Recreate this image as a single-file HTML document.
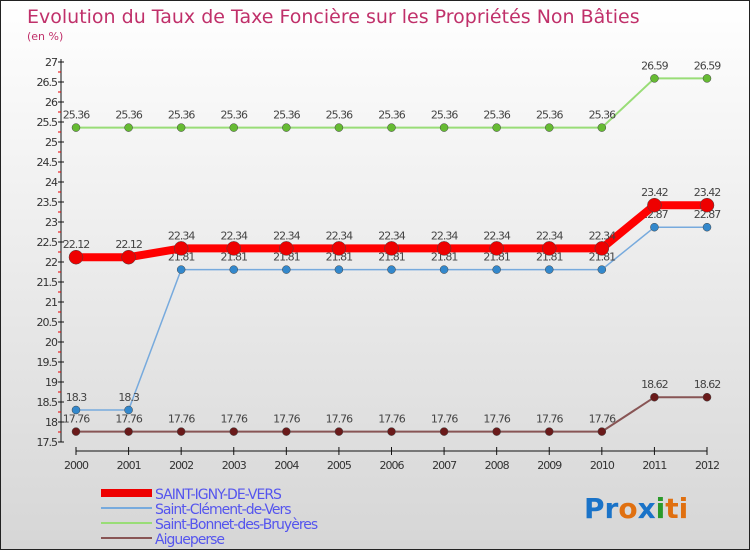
<!DOCTYPE html>
<html><head><meta charset="utf-8"><style>
body{margin:0}
#wrap{width:750px;height:550px;position:relative;box-sizing:border-box;border:1px solid #222;background:linear-gradient(#fff,#d6d6d6);font-family:"DejaVu Sans","Liberation Sans",sans-serif;overflow:hidden}
svg text{font-family:"DejaVu Sans","Liberation Sans",sans-serif}
</style></head><body>
<div id="wrap">
<svg id="chart" width="750" height="550">
<text x="26" y="22" font-size="19" fill="#c0306a">Evolution du Taux de Taxe Foncière sur les Propriétés Non Bâties</text>
<text x="26" y="39" font-size="11" fill="#c0306a">(en %)</text>
<g id="axes"></g><g id="series"></g><g id="legend"></g>
<text x="583" y="517" font-size="28" font-weight="bold"><tspan fill="#1a73c8">Pr</tspan><tspan fill="#e07010">o</tspan><tspan fill="#1a73c8">x</tspan><tspan fill="#2a9a2a">i</tspan><tspan fill="#e07010">ti</tspan></text>
</svg></div>
<script>
const years=[2000,2001,2002,2003,2004,2005,2006,2007,2008,2009,2010,2011,2012];
const saintIgny=[22.12,22.12,22.34,22.34,22.34,22.34,22.34,22.34,22.34,22.34,22.34,23.42,23.42];
const saintClement=[18.3,18.3,21.81,21.81,21.81,21.81,21.81,21.81,21.81,21.81,21.81,22.87,22.87];
const saintBonnet=[25.36,25.36,25.36,25.36,25.36,25.36,25.36,25.36,25.36,25.36,25.36,26.59,26.59];
const aigueperse=[17.76,17.76,17.76,17.76,17.76,17.76,17.76,17.76,17.76,17.76,17.76,18.62,18.62];
const yTicks=[17.5,18,18.5,19,19.5,20,20.5,21,21.5,22,22.5,23,23.5,24,24.5,25,25.5,26,26.5,27];
const seriesNames=["SAINT-IGNY-DE-VERS","Saint-Clément-de-Vers","Saint-Bonnet-des-Bruyères","Aigueperse"];
const NS="http://www.w3.org/2000/svg";
const xs=i=>75+i*(706-75)/(years.length-1);
const ys=v=>61+(27-v)*40;
function mk(tag,attrs,parent,txt){const e=document.createElementNS(NS,tag);for(const k in attrs)e.setAttribute(k,attrs[k]);if(txt!==undefined)e.textContent=txt;parent.appendChild(e);return e;}
const ax=document.getElementById('axes');
let l=mk('line',{x1:60,y1:ys(27)-3,x2:60,y2:ys(17.5),stroke:'#111'},ax);


l=mk('line',{x1:75,y1:450,x2:706,y2:450,stroke:'#111'},ax);


yTicks.forEach(v=>{
 mk('line',{x1:57,y1:ys(v),x2:63,y2:ys(v),stroke:'#111'},ax);
 if(v<27) mk('line',{x1:57,y1:ys(v+0.25),x2:60,y2:ys(v+0.25),stroke:'#e00'},ax);
 const t=mk('text',{x:56,y:ys(v)+4,'font-size':11,'text-anchor':'end',fill:'#333','letter-spacing':'-1'},ax,String(v));
 
 
});
years.forEach((y,i)=>{
 mk('line',{x1:xs(i),y1:446,x2:xs(i),y2:454,stroke:'#111'},ax);
 const t=mk('text',{x:xs(i),y:468,'font-size':11,'text-anchor':'middle',fill:'#333','letter-spacing':'-1'},ax,String(y));
 
 
});
const sg=document.getElementById('series');
const defs=[
 {d:saintBonnet,c:'#99dd77',dot:'#66bb33',w:2,r:4,name:'saint-bonnet'},
 {d:aigueperse,c:'#885555',dot:'#6a1a1a',w:2,r:4,name:'aigueperse'},
 {d:saintClement,c:'#77aadd',dot:'#3388cc',w:1.5,r:4,name:'saint-clement'},
 {d:saintIgny,c:'#ff0000',dot:'#ee0000',w:8,r:7,name:'saint-igny'}
];
defs.forEach(s=>{
 const g=mk('g',{},sg);
 
 
 const p=mk('polyline',{points:s.d.map((v,i)=>xs(i)+','+ys(v)).join(' '),fill:'none',stroke:s.c,'stroke-width':s.w},g);
 
 
 s.d.forEach((v,i)=>{
  const c=mk('circle',{cx:xs(i),cy:ys(v),r:s.r,fill:s.dot,stroke:'#444','stroke-width':0.5},g);
  
  
  const t=mk('text',{x:xs(i),y:ys(v)-9,'font-size':11,'text-anchor':'middle',fill:'#444','letter-spacing':'-1'},g,String(v));
  
  
 });
});
const lg=document.getElementById('legend');
const lc=[['#ee0000',8],['#77aadd',2],['#99dd77',2],['#885555',2]];
seriesNames.forEach((n,i)=>{
 const y=492+i*15;
 const g=mk('g',{},lg);
 
 
 mk('line',{x1:100,y1:y,x2:151,y2:y,stroke:lc[i][0],'stroke-width':lc[i][1]},g);
 mk('text',{x:154,y:y+6,'font-size':14,fill:'#5555ee','letter-spacing':'-1'},g,n);
});
</script>
</body></html>
